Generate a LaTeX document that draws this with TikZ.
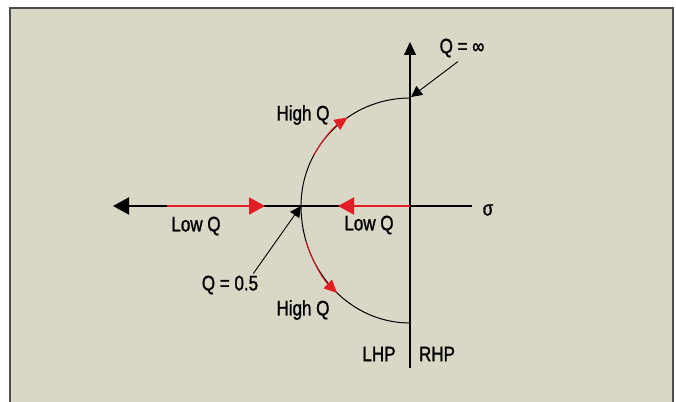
\documentclass[tikz,border=0pt]{standalone}
\usepackage{fontspec}
\newfontfamily\lblfont{Liberation Sans}[FakeStretch=0.81, FakeBold=1.3]
\usetikzlibrary{arrows.meta, calc}
\definecolor{panel}{RGB}{217,215,198}
\definecolor{locus}{RGB}{226,30,36}

\begin{document}
\begin{tikzpicture}[
  x=1pt, y=-1pt,
  lbl/.style={font=\lblfont\fontsize{21}{23}\selectfont, inner sep=0pt},
  axisline/.style={line width=1.3pt},
  arc/.style={line width=1pt},
  redline/.style={draw=locus, line width=2pt},
  bigtip/.style={-{Triangle[length=16pt, width=17pt]}},
  smalltip/.style={-{Triangle[length=11pt, width=11pt]}, line width=0.9pt}
]
\useasboundingbox (0,0) rectangle (676,401);
\fill[white] (0,0) rectangle (676,401);
\draw[fill=panel, draw=black!70, line width=1.5pt] (10,8) rectangle (673,410);

% axes
\coordinate (O) at (410,206);
\coordinate (cross) at (301,206);
\coordinate (ytop) at (410,42);
\coordinate (ybot) at (410,368);
\coordinate (xright) at (472,206);
\coordinate (xleft) at (113,206);
\draw[axisline, -{Triangle[length=13pt, width=12pt]}] (ybot) -- (ytop);
\draw[line width=2pt, bigtip] (xright) -- (xleft);

% real-axis (low Q) segments
\coordinate (lowstart) at (167,206);
\coordinate (lowend) at (265,206);
\coordinate (lowend2) at (338,206);
\draw[redline, -{Triangle[length=16pt, width=17pt, fill=locus]}] (lowstart) -- (lowend);
\draw[redline, -{Triangle[length=16pt, width=17pt, fill=locus]}] (O) -- (lowend2);

% semicircle of poles
\draw[arc] (cross) arc[start angle=180, end angle=270, x radius=109, y radius=108];
\draw[arc] (cross) arc[start angle=180, end angle=90, x radius=109, y radius=117];
\draw[arc, draw=locus, -{Triangle[length=13pt, width=12pt]}]
  ($(O)+(208:109 and 108)$) arc[start angle=208, end angle=235, x radius=109, y radius=108];
\draw[arc, draw=locus, -{Triangle[length=13pt, width=12pt]}]
  ($(O)+(162:109 and 117)$) arc[start angle=162, end angle=132, x radius=109, y radius=117];

% labels
\node[lbl] (sigma) at (488,210) {σ};
\node[lbl] (qinf) at (462,48) {Q = ∞};
\node[lbl] (highup) at (303,115) {High Q};
\node[lbl] (highdn) at (303,310) {High Q};
\node[lbl] (lowleft) at (196,226) {Low Q};
\node[lbl] (lowright) at (369,225) {Low Q};
\node[lbl] (qhalf) at (230,285) {Q = 0.5};
\node[lbl] (lhp) at (379,354) {LHP};
\node[lbl] (rhp) at (437,354) {RHP};

% leaders
\coordinate (arctop) at (411,97);
\draw[smalltip] (qinf.south) ++(-4,4) -- (arctop);
\draw[smalltip] (qhalf.north east) ++(-5,-2) -- (cross);
\end{tikzpicture}
\end{document}
